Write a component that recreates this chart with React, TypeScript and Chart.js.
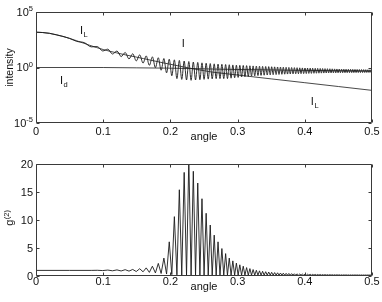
import React, { useEffect, useRef } from "react";
import { Chart, registerables } from "chart.js";

Chart.register(...registerables);

const FONT = '"Liberation Sans", Arial, Helvetica, sans-serif';

// ---------- axis ticks ----------
const angleTicks = [0, 0.1, 0.2, 0.3, 0.4, 0.5];
const angleTickLabels = ["0", "0.1", "0.2", "0.3", "0.4", "0.5"];
const intensityTicks = [1e5, 1, 1e-5];
const intensityTickExponents = ["5", "0", "-5"];
const g2Ticks = [0, 5, 10, 15, 20];
const g2TickLabels = ["0", "5", "10", "15", "20"];

// ---------- smooth curves (top panel) ----------
const laserAngle = [
  0, 0.01, 0.02, 0.03, 0.04, 0.05, 0.06, 0.07, 0.08, 0.09, 0.1, 0.11, 0.12, 0.13, 0.14, 0.15,
  0.16, 0.17, 0.18, 0.19, 0.2, 0.21, 0.22, 0.23, 0.24, 0.25, 0.26, 0.27, 0.28, 0.29, 0.3, 0.35,
  0.4, 0.45, 0.5,
];
const laserIntensity = [
  1514, 1413, 1202, 891, 631, 417, 263, 162, 100, 63.1, 41.7, 28.8, 20.9, 15.1, 11.2, 8.51,
  6.31, 4.68, 3.47, 2.57, 1.95, 1.48, 1.12, 0.851, 0.661, 0.513, 0.407, 0.339, 0.288, 0.245,
  0.209, 0.0944, 0.0427, 0.0193, 0.00871,
];
const darkAngle = [0, 0.1, 0.15, 0.2, 0.25, 0.3, 0.35, 0.4, 0.45, 0.5];
const darkIntensity = [1, 1, 0.933, 0.871, 0.759, 0.661, 0.603, 0.55, 0.513, 0.479];

// ---------- total intensity I, leading part before the fringes ----------
const totalLeadAngle = [0, 0.01, 0.02, 0.03, 0.04, 0.05, 0.0605, 0.0722];
const totalLeadIntensity = [1515, 1413, 1202, 891, 631, 417, 226, 171];

// ---------- fringe extrema (alternating trough / peak) ----------
const fringeAngle = [
  0.0822, 0.0912, 0.0993, 0.1068, 0.1138, 0.1205, 0.1267, 0.1327, 0.1384, 0.1439,
  0.1492, 0.1543, 0.1593, 0.164, 0.1687, 0.1732, 0.1777, 0.182, 0.1862, 0.1903,
  0.1943, 0.1983, 0.2021, 0.2059, 0.2097, 0.2133, 0.2169, 0.2205, 0.224, 0.2274,
  0.2308, 0.2341, 0.2374, 0.2407, 0.2439, 0.247, 0.2501, 0.2532, 0.2563, 0.2593,
  0.2622, 0.2652, 0.2681, 0.2709, 0.2738, 0.2766, 0.2794, 0.2822, 0.2849, 0.2876,
  0.2903, 0.2929, 0.2956, 0.2982, 0.3008, 0.3033, 0.3059, 0.3084, 0.3109, 0.3134,
  0.3159, 0.3183, 0.3207, 0.3231, 0.3255, 0.3279, 0.3303, 0.3326, 0.3349, 0.3372,
  0.3395, 0.3418, 0.3441, 0.3463, 0.3485, 0.3507, 0.3529, 0.3551, 0.3573, 0.3595,
  0.3616, 0.3638, 0.3659, 0.368, 0.3701, 0.3722, 0.3743, 0.3763, 0.3784, 0.3804,
  0.3825, 0.3845, 0.3865, 0.3885, 0.3905, 0.3925, 0.3944, 0.3964, 0.3983, 0.4003,
  0.4022, 0.4041, 0.406, 0.408, 0.4098, 0.4117, 0.4136, 0.4155, 0.4173, 0.4192,
  0.421, 0.4229, 0.4247, 0.4265, 0.4283, 0.4301, 0.4319, 0.4337, 0.4355, 0.4373,
  0.4391, 0.4408, 0.4426, 0.4443, 0.4461, 0.4478, 0.4495, 0.4512, 0.453, 0.4547,
  0.4564, 0.4581, 0.4598, 0.4614, 0.4631, 0.4648, 0.4665, 0.4681, 0.4698, 0.4714,
  0.473, 0.4747, 0.4763, 0.4779, 0.4796, 0.4812, 0.4828, 0.4844, 0.486, 0.4876,
  0.4892, 0.4907, 0.4923, 0.4939, 0.4955, 0.497, 0.4986,
];
const fringeIntensity = [
  72.4, 76.5, 30.8, 44.8, 16.4, 30.6, 9.63, 22.4, 5.92, 17.2,
  3.94, 13.7, 2.49, 11.0, 1.57, 9.07, 0.962, 7.57, 0.569, 6.43,
  0.328, 5.58, 0.181, 4.9, 0.1, 4.31, 0.085, 3.84, 0.075, 3.44,
  0.07, 3.12, 0.075, 2.85, 0.08, 2.62, 0.085, 2.42, 0.09, 2.26,
  0.095, 2.13, 0.1, 2.03, 0.1, 1.94, 0.1, 1.85, 0.1, 1.77,
  0.109, 1.7, 0.118, 1.64, 0.128, 1.575, 0.139, 1.525, 0.149, 1.475,
  0.158, 1.427, 0.17, 1.384, 0.177, 1.343, 0.187, 1.305, 0.195, 1.269,
  0.202, 1.234, 0.21, 1.201, 0.217, 1.168, 0.225, 1.14, 0.231, 1.112,
  0.237, 1.086, 0.244, 1.061, 0.25, 1.037, 0.256, 1.014, 0.261, 0.992,
  0.266, 0.972, 0.271, 0.956, 0.276, 0.933, 0.28, 0.915, 0.284, 0.897,
  0.288, 0.882, 0.293, 0.867, 0.296, 0.853, 0.301, 0.839, 0.305, 0.826,
  0.309, 0.813, 0.312, 0.801, 0.316, 0.79, 0.319, 0.778, 0.322, 0.767,
  0.325, 0.756, 0.328, 0.745, 0.33, 0.737, 0.333, 0.728, 0.335, 0.716,
  0.337, 0.709, 0.339, 0.7, 0.341, 0.692, 0.343, 0.685, 0.346, 0.675,
  0.347, 0.667, 0.348, 0.661, 0.35, 0.653, 0.351, 0.648, 0.352, 0.643,
  0.354, 0.635, 0.355, 0.628, 0.356, 0.622, 0.358,
];
const fringeG2 = [
  1.0, 1.02, 0.97, 1.06, 0.93, 1.09, 0.9, 1.13, 0.87, 1.17,
  0.8, 1.3, 0.75, 1.45, 0.65, 1.75, 0.55, 2.25, 0.45, 3.2,
  0.35, 6.1, 0.25, 10.6, 0.2, 15.4, 0.15, 18.5, 0.15, 20.8,
  0.15, 18.7, 0.15, 16.6, 0.15, 13.8, 0.15, 11.2, 0.15, 9.1,
  0.15, 7.3, 0.15, 6.1, 0.15, 4.9, 0.15, 4.0, 0.15, 3.2,
  0.15, 2.7, 0.15, 2.3, 0.15, 2.0, 0.15, 1.75, 0.15, 1.5,
  0.15, 1.32, 0.15, 1.15, 0.15, 1.02, 0.15, 0.92, 0.15, 0.84,
  0.15, 0.77, 0.15, 0.71, 0.15, 0.66, 0.15, 0.61, 0.15, 0.57,
  0.15, 0.53, 0.15, 0.5, 0.15, 0.47, 0.15, 0.45, 0.15, 0.42,
  0.15, 0.4, 0.15, 0.38, 0.15, 0.36, 0.15, 0.34, 0.15, 0.32,
  0.15, 0.31, 0.15, 0.3, 0.15, 0.29, 0.15, 0.28, 0.15, 0.27,
  0.15, 0.26, 0.15, 0.25, 0.15, 0.24, 0.15, 0.235, 0.15, 0.23,
  0.15, 0.225, 0.15, 0.22, 0.15, 0.215, 0.15, 0.21, 0.14, 0.205,
  0.14, 0.2, 0.14, 0.2, 0.14, 0.195, 0.14, 0.195, 0.14, 0.19,
  0.14, 0.19, 0.14, 0.19, 0.14, 0.185, 0.14, 0.185, 0.14, 0.18,
  0.14, 0.18, 0.14, 0.18, 0.14, 0.18, 0.14,
];
const totalTailAngle = [0.5];
const totalTailIntensity = [0.47];

// ---------- g2 lead / tail ----------
const g2LeadAngle = [0, 0.05];
const g2LeadValue = [1.0, 1.0];
const g2TailAngle = [0.5];
const g2TailValue = [0.16];

// ---------- annotations (top panel) ----------
const labelMain = ["I", "I", "I", "I"];
const labelSub = ["L", "", "d", "L"];
const labelAngle = [0.0655, 0.217, 0.0357, 0.409];
const labelIntensity = [980, 70, 0.036, 0.00038];

function pts(xs: number[], ys: number[]) {
  return xs.map((x, i) => ({ x, y: ys[i] }));
}

type FrameCfg = {
  id: string;
  yTicks: number[];
  yLabel: (ctx: CanvasRenderingContext2D, v: number, i: number, x: number, y: number) => void;
  xLabelOffset: number;
  xTitleOffset: number;
  yTitle: (ctx: CanvasRenderingContext2D, cy: number) => void;
  extra?: (chart: any) => void;
};

function framePlugin(cfg: FrameCfg) {
  return {
    id: cfg.id,
    afterDraw(chart: any) {
      const { ctx, chartArea: a, scales } = chart;
      const xs = scales.x;
      const ys = scales.y;
      const L = Math.round(a.left) + 0.5;
      const R = Math.round(a.right) - 0.5;
      const T = Math.round(a.top) + 0.5;
      const B = Math.round(a.bottom) - 0.5;
      ctx.save();
      ctx.strokeStyle = "#3a3a3a";
      ctx.lineWidth = 1;
      ctx.beginPath();
      ctx.rect(L, T, R - L, B - T);
      // x ticks (inward, bottom and top)
      angleTicks.forEach((v) => {
        const px = Math.round(xs.getPixelForValue(v)) + 0.5;
        ctx.moveTo(px, B);
        ctx.lineTo(px, B - 3);
        ctx.moveTo(px, T);
        ctx.lineTo(px, T + 3);
      });
      cfg.yTicks.forEach((v) => {
        const py = Math.round(ys.getPixelForValue(v)) + 0.5;
        ctx.moveTo(L, py);
        ctx.lineTo(L + 3, py);
        ctx.moveTo(R, py);
        ctx.lineTo(R - 3, py);
      });
      ctx.stroke();

      ctx.fillStyle = "#111";
      ctx.font = `11px ${FONT}`;
      ctx.textAlign = "center";
      ctx.textBaseline = "alphabetic";
      angleTicks.forEach((v, i) => {
        const px = xs.getPixelForValue(v);
        ctx.fillText(angleTickLabels[i], px, a.bottom + cfg.xLabelOffset);
      });
      cfg.yTicks.forEach((v, i) => {
        const py = ys.getPixelForValue(v);
        cfg.yLabel(ctx, v, i, a.left - 3, py);
      });
      ctx.font = `11px ${FONT}`;
      ctx.textAlign = "center";
      ctx.fillText("angle", (a.left + a.right) / 2, a.bottom + cfg.xTitleOffset);
      cfg.yTitle(ctx, (a.top + a.bottom) / 2);
      if (cfg.extra) cfg.extra(chart);
      ctx.restore();
    },
  };
}

const LINE = "#1a1a1a";

export default function App() {
  const topRef = useRef<HTMLCanvasElement | null>(null);
  const botRef = useRef<HTMLCanvasElement | null>(null);

  useEffect(() => {
    const topPlugin = framePlugin({
      id: "frameTop",
      yTicks: intensityTicks,
      xLabelOffset: 11.5,
      xTitleOffset: 16.5,
      yLabel: (ctx, v, i, x, y) => {
        ctx.textAlign = "right";
        ctx.font = `7.5px ${FONT}`;
        const exp = intensityTickExponents[i];
        const ew = ctx.measureText(exp).width;
        ctx.fillText(exp, x, y - 1);
        ctx.font = `11px ${FONT}`;
        ctx.fillText("10", x - ew, y + 3.8);
      },
      yTitle: (ctx, cy) => {
        ctx.save();
        ctx.translate(12.5, cy);
        ctx.rotate(-Math.PI / 2);
        ctx.textAlign = "center";
        ctx.font = `10.5px ${FONT}`;
        ctx.fillText("intensity", 0, 0);
        ctx.restore();
      },
      extra: (chart) => {
        const { ctx, scales } = chart;
        labelMain.forEach((m, i) => {
          const px = scales.x.getPixelForValue(labelAngle[i]);
          const py = scales.y.getPixelForValue(labelIntensity[i]);
          ctx.textAlign = "left";
          ctx.font = `11px ${FONT}`;
          ctx.fillText(m, px, py);
          const w = ctx.measureText(m).width;
          if (labelSub[i]) {
            ctx.font = `7.5px ${FONT}`;
            ctx.fillText(labelSub[i], px + w + 0.5, py + 3);
          }
        });
      },
    });

    const botPlugin = framePlugin({
      id: "frameBot",
      yTicks: g2Ticks,
      xLabelOffset: 9,
      xTitleOffset: 13.8,
      yLabel: (ctx, v, i, x, y) => {
        ctx.textAlign = "right";
        ctx.font = `11px ${FONT}`;
        ctx.fillText(g2TickLabels[i], x, y + 4);
      },
      yTitle: (ctx, cy) => {
        ctx.save();
        ctx.translate(13, cy - 2);
        ctx.rotate(-Math.PI / 2);
        ctx.textAlign = "left";
        ctx.font = `11px ${FONT}`;
        const wg = ctx.measureText("g").width;
        ctx.font = `7.5px ${FONT}`;
        const ws = ctx.measureText("(2)").width;
        const start = -(wg + ws) / 2;
        ctx.font = `11px ${FONT}`;
        ctx.fillText("g", start, 0);
        ctx.font = `7.5px ${FONT}`;
        ctx.fillText("(2)", start + wg + 0.3, -4.5);
        ctx.restore();
      },
    });

    const totalAngle = [...totalLeadAngle, ...fringeAngle, ...totalTailAngle];
    const totalIntensity = [...totalLeadIntensity, ...fringeIntensity, ...totalTailIntensity];
    const g2Angle = [...g2LeadAngle, ...fringeAngle, ...g2TailAngle];
    const g2Value = [...g2LeadValue, ...fringeG2, ...g2TailValue];

    const common = {
      animation: false as const,
      responsive: false,
      maintainAspectRatio: false,
      events: [] as any[],
      plugins: { legend: { display: false }, tooltip: { enabled: false } },
      elements: { point: { radius: 0 } },
    };

    const top = new Chart(topRef.current as HTMLCanvasElement, {
      type: "line",
      data: {
        datasets: [
          {
            data: pts(darkAngle, darkIntensity),
            borderColor: LINE,
            borderWidth: 0.8,
            pointRadius: 0,
            fill: false,
            cubicInterpolationMode: "monotone",
          },
          {
            data: pts(laserAngle, laserIntensity),
            borderColor: LINE,
            borderWidth: 0.8,
            pointRadius: 0,
            fill: false,
            cubicInterpolationMode: "monotone",
          },
          {
            data: pts(totalAngle, totalIntensity),
            borderColor: LINE,
            borderWidth: 0.9,
            pointRadius: 0,
            fill: false,
            cubicInterpolationMode: "monotone",
          },
        ],
      },
      options: {
        ...common,
        layout: { padding: { left: 36, right: 10, top: 12, bottom: 27 } },
        scales: {
          x: { type: "linear", min: 0, max: 0.5, display: false },
          y: { type: "logarithmic", min: 1e-5, max: 1e5, display: false },
        },
      } as any,
      plugins: [topPlugin],
    });

    const bot = new Chart(botRef.current as HTMLCanvasElement, {
      type: "line",
      data: {
        datasets: [
          {
            data: pts(g2Angle, g2Value),
            borderColor: LINE,
            borderWidth: 0.9,
            pointRadius: 0,
            fill: false,
            tension: 0,
          },
        ],
      },
      options: {
        ...common,
        layout: { padding: { left: 36, right: 10, top: 14, bottom: 26 } },
        scales: {
          x: { type: "linear", min: 0, max: 0.5, display: false },
          y: { type: "linear", min: 0, max: 20, display: false },
        },
      } as any,
      plugins: [botPlugin],
    });

    return () => {
      top.destroy();
      bot.destroy();
    };
  }, []);

  return (
    <div style={{ position: "relative", width: 382, height: 302, background: "#fff" }}>
      <style>{`html,body{margin:0;padding:0;background:#fff;}`}</style>
      <canvas ref={topRef} width={382} height={150} style={{ display: "block", width: 382, height: 150 }} />
      <canvas ref={botRef} width={382} height={152} style={{ display: "block", width: 382, height: 152 }} />
    </div>
  );
}
